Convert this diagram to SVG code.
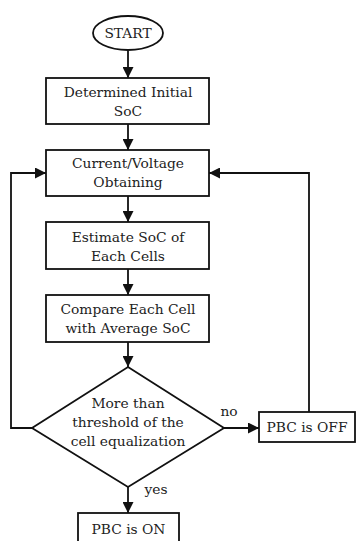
<svg xmlns="http://www.w3.org/2000/svg" width="356" height="541" viewBox="0 0 356 541">
<style>
.n{fill:#fff;stroke:#111;stroke-width:1.8}
.c{fill:none;stroke:#111;stroke-width:1.8}
text{font-family:"DejaVu Serif","Liberation Serif",serif;font-size:13.8px;fill:#222;text-anchor:middle}
</style>
<defs>
<marker id="a" viewBox="0 0 10 10" refX="10" refY="5" markerWidth="11" markerHeight="11" markerUnits="userSpaceOnUse" orient="auto">
<path d="M0,0 L10,5 L0,10 Z" fill="#111"/>
</marker>
</defs>
<rect width="356" height="541" fill="#fff"/>
<g id="connectors">
<line class="c" x1="128" y1="51" x2="128" y2="78" marker-end="url(#a)"/>
<line class="c" x1="128" y1="124" x2="128" y2="150" marker-end="url(#a)"/>
<line class="c" x1="128" y1="196" x2="128" y2="222" marker-end="url(#a)"/>
<line class="c" x1="128" y1="269" x2="128" y2="295" marker-end="url(#a)"/>
<line class="c" x1="128" y1="342" x2="128" y2="367" marker-end="url(#a)"/>
<line class="c" x1="224" y1="428" x2="259" y2="428" marker-end="url(#a)"/>
<line class="c" x1="128" y1="487" x2="128" y2="513" marker-end="url(#a)"/>
<polyline class="c" points="32,428 11,428 11,173 46,173" marker-end="url(#a)"/>
<polyline class="c" points="309,412 309,173 209,173" marker-end="url(#a)"/>
<text x="229" y="416">no</text>
<text x="156" y="494">yes</text>
</g>
<g id="start">
<ellipse class="n" cx="128" cy="33" rx="35" ry="17"/>
<text x="128" y="38">START</text>
</g>
<g id="init">
<rect class="n" x="46" y="78" width="163" height="46"/>
<text x="128" y="97">Determined Initial</text>
<text x="128" y="116">SoC</text>
</g>
<g id="obtain">
<rect class="n" x="46" y="150" width="163" height="46"/>
<text x="128" y="168">Current/Voltage</text>
<text x="128" y="187">Obtaining</text>
</g>
<g id="estimate">
<rect class="n" x="46" y="222" width="163" height="47"/>
<text x="128" y="242">Estimate SoC of</text>
<text x="128" y="261">Each Cells</text>
</g>
<g id="compare">
<rect class="n" x="46" y="295" width="163" height="47"/>
<text x="128" y="314">Compare Each Cell</text>
<text x="128" y="333">with Average SoC</text>
</g>
<g id="decision">
<polygon class="n" points="128,367 224,428 128,487 32,428"/>
<text x="128" y="408">More than</text>
<text x="128" y="427">threshold of the</text>
<text x="128" y="446">cell equalization</text>
</g>
<g id="off">
<rect class="n" x="259" y="412" width="96" height="30"/>
<text x="307" y="432">PBC is OFF</text>
</g>
<g id="on">
<rect class="n" x="78" y="513" width="101" height="35"/>
<text x="128.5" y="534">PBC is ON</text>
</g>
</svg>
